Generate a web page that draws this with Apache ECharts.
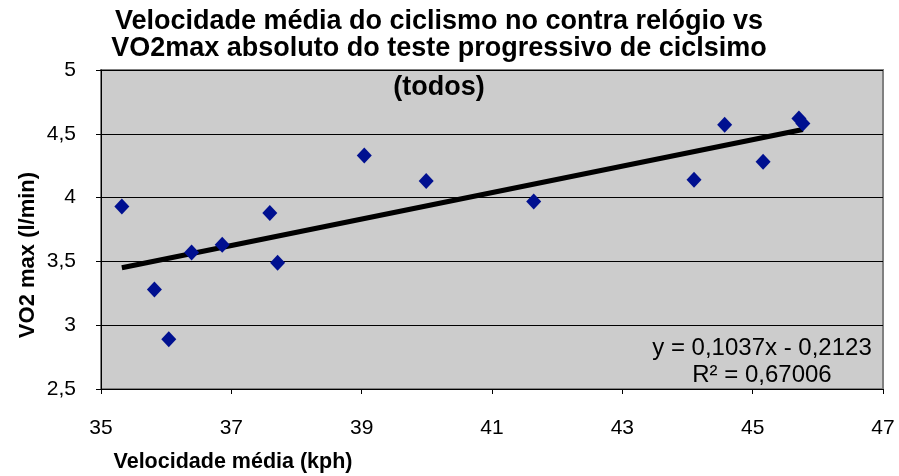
<!DOCTYPE html>
<html><head><meta charset="utf-8">
<script src="https://cdn.jsdelivr.net/npm/echarts@6/dist/echarts.min.js"></script>
<style>html,body{margin:0;padding:0;background:#fff}#c{width:899px;height:476px}</style>
</head><body><div id="c"></div>
<script>
var speed = [35.32, 35.82, 36.04, 36.39, 36.86, 37.59, 37.71, 39.04, 39.99, 41.64, 44.10, 44.57, 45.16, 45.71, 45.77];
var vo2   = [3.93, 3.28, 2.89, 3.57, 3.63, 3.88, 3.49, 4.33, 4.13, 3.97, 4.14, 4.57, 4.28, 4.62, 4.58];
var slope = 0.1037, intercept = -0.2123;
var trendX = [35.32, 45.77];
var xTicks = [35, 37, 39, 41, 43, 45, 47];
var yTicks = [2.5, 3, 3.5, 4, 4.5, 5];
var titleLines = ['Velocidade média do ciclismo no contra relógio vs', 'VO2max absoluto do teste progressivo de ciclsimo', '(todos)'];
var xName = 'Velocidade média (kph)';
var yName = 'VO2 max (l/min)';
var eqLines = ['y = 0,1037x - 0,2123', 'R² = 0,67006'];

var pts = speed.map(function(s, i){ return [s, vo2[i]]; });
var trend = trendX.map(function(x){ return [x, slope * x + intercept]; });
var FONT = 'Liberation Sans, Arial, sans-serif';
var titleY = [21.5, 48.5, 88];
var eqY = [348, 375];
var graphics = [];
titleLines.forEach(function(t, i){
  graphics.push({ type: 'text', x: 439, y: titleY[i], z: 10,
    style: { text: t, fill: '#000', font: 'bold 27px ' + FONT, textAlign: 'center', textVerticalAlign: 'middle' } });
});
eqLines.forEach(function(t, i){
  graphics.push({ type: 'text', x: 762, y: eqY[i], z: 10,
    style: { text: t, fill: '#000', font: '24px ' + FONT, textAlign: 'center', textVerticalAlign: 'middle' } });
});
graphics.push({ type: 'text', x: 233, y: 462, z: 10,
  style: { text: xName, fill: '#000', font: 'bold 21.5px ' + FONT, textAlign: 'center', textVerticalAlign: 'middle' } });
graphics.push({ type: 'text', x: 28, y: 255, rotation: Math.PI/2, z: 10,
  style: { text: yName, fill: '#000', font: 'bold 22px ' + FONT, textAlign: 'center', textVerticalAlign: 'middle' } });

var chart = echarts.init(document.getElementById('c'));
chart.setOption({
  animation: false,
  backgroundColor: '#ffffff',
  grid: { left: 101, right: 16, top: 70, bottom: 87, show: true, backgroundColor: '#cccccc', borderColor: '#808080', borderWidth: 2 },
  xAxis: {
    type: 'value', min: xTicks[0], max: xTicks[xTicks.length-1], interval: 2,
    axisLine: { show: true, lineStyle: { color: '#000', width: 1 } },
    axisTick: { show: true, length: 5, lineStyle: { color: '#000' } },
    axisLabel: { color: '#000', fontSize: 21, fontFamily: FONT, margin: 29 },
    splitLine: { show: false }
  },
  yAxis: {
    type: 'value', min: yTicks[0], max: yTicks[yTicks.length-1], interval: 0.5,
    axisLine: { show: true, lineStyle: { color: '#000', width: 1 } },
    axisTick: { show: true, length: 5, lineStyle: { color: '#000' } },
    axisLabel: { color: '#000', fontSize: 21, fontFamily: FONT, margin: 25,
      formatter: function(v){ return String(v).replace('.', ','); } },
    splitLine: { show: true, lineStyle: { color: '#000', width: 1 } }
  },
  series: [
    { type: 'line', data: trend, symbol: 'none', lineStyle: { color: '#000', width: 5 }, z: 2 },
    { type: 'scatter', data: pts, symbol: 'diamond', symbolSize: [15, 16], itemStyle: { color: '#001090', opacity: 1 }, z: 3 }
  ],
  graphic: graphics
});
</script></body></html>
